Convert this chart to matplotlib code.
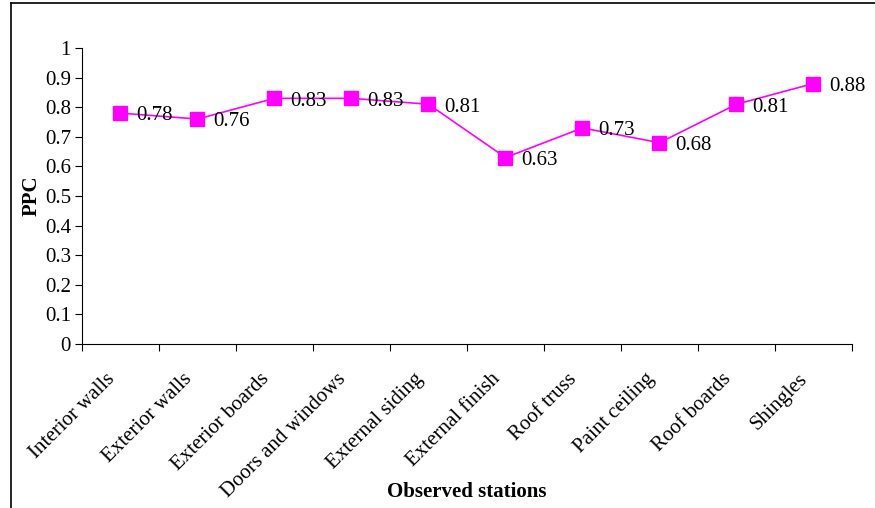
import matplotlib.pyplot as plt
import matplotlib.transforms as mtransforms
from matplotlib.lines import Line2D

stations = ['Interior walls', 'Exterior walls', 'Exterior boards', 'Doors and windows',
            'External siding', 'External finish', 'Roof truss', 'Paint ceiling',
            'Roof boards', 'Shingles']
ppc = [0.78, 0.76, 0.83, 0.83, 0.81, 0.63, 0.73, 0.68, 0.81, 0.88]
y_ticks = [0, 0.1, 0.2, 0.3, 0.4, 0.5, 0.6, 0.7, 0.8, 0.9, 1]
y_tick_labels = ['0', '0.1', '0.2', '0.3', '0.4', '0.5', '0.6', '0.7', '0.8', '0.9', '1']

plt.rcParams['font.family'] = ['Liberation Serif', 'DejaVu Serif']
fs = 15

fig = plt.figure(figsize=(8.75, 5.08), dpi=100)
ax = fig.add_axes([0.0937, 0.3228, 0.88, 0.5827])

x = [i + 0.5 for i in range(len(stations))]
ax.plot(x, ppc, color='#FF00FF', lw=1.2, marker='s', ms=9.5, mfc='#FF00FF', mec='#FF00FF')

# value labels next to each marker
for xi, yi in zip(x, ppc):
    ax.annotate('{0:.2f}'.format(yi), (xi, yi), xytext=(11, -2), textcoords='offset points',
                ha='left', va='center', fontsize=fs)

ax.set_xlim(0, len(stations))
ax.set_ylim(0, 1)
ax.set_xticks(range(len(stations) + 1))
ax.set_xticklabels([])
ax.set_xticks(x, minor=True)
ax.set_xticklabels(stations, minor=True, rotation=45, ha='right', va='top',
                   rotation_mode='anchor', fontsize=fs)
ax.tick_params(axis='x', which='minor', length=0, pad=12)
ax.tick_params(axis='x', which='major', length=5, direction='out')
shift = mtransforms.ScaledTranslation(-15 / 100, -9 / 100, fig.dpi_scale_trans)
for lbl in ax.get_xticklabels(minor=True):
    lbl.set_transform(lbl.get_transform() + shift)
ax.set_yticks(y_ticks)
ax.set_yticklabels(y_tick_labels, fontsize=fs)
ax.tick_params(axis='y', length=5, direction='out', pad=3)

for s in ['top', 'right']:
    ax.spines[s].set_visible(False)

ax.set_ylabel('PPC', fontsize=fs, fontweight='bold')
ax.yaxis.set_label_coords(-0.053, 0.5)
ax.set_xlabel('Observed stations', fontsize=fs, fontweight='bold')
ax.xaxis.set_label_coords(0.5, -0.465)

# frame pieces around the figure
fig.add_artist(Line2D([11 / 875, 11 / 875], [0, 1 - 3 / 508], color='black', lw=1.2))
fig.add_artist(Line2D([11 / 875, 1], [1 - 3 / 508, 1 - 3 / 508], color='black', lw=1.2))

fig.savefig('out.png', dpi=100)
